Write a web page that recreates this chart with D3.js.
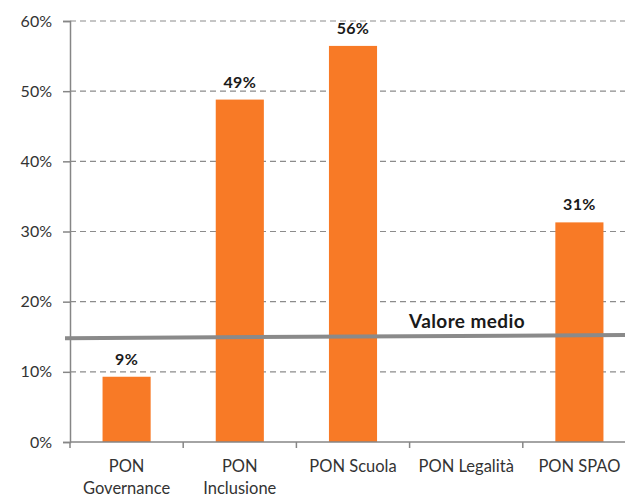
<html>
<head>
<script src="https://cdnjs.cloudflare.com/ajax/libs/d3/7.8.5/d3.min.js"></script>
<style>
  body { margin: 0; background: #fff; }
  text { font-family: Lato, "Open Sans", sans-serif; }
</style>
</head>
<body>
<script>
var width = 625, height = 498;

// data
var categories = ["PON Governance", "PON Inclusione", "PON Scuola", "PON Legalità", "PON SPAO"];
var labelLines = [["PON", "Governance"], ["PON", "Inclusione"], ["PON Scuola"], ["PON Legalità"], ["PON SPAO"]];
var values = [9.3, 48.8, 56.45, null, 31.3];
var valueLabels = ["9%", "49%", "56%", null, "31%"];
var yTicks = [0, 10, 20, 30, 40, 50, 60];
var avgValues = [14.8, 15.25];   // average line, left end and right end
var avgLabel = "Valore medio";

// plot area (window.top is reserved, so use prefixed names)
var plotLeft = 70, plotTop = 21, plotBottom = 442, plotRight = 636;

var svg = d3.select("body").append("svg")
  .attr("width", width)
  .attr("height", height);

var x = d3.scaleBand().domain(categories).range([plotLeft, plotRight]).paddingInner(0.575).paddingOuter(0.2875);
var y = d3.scaleLinear().domain([0, 60]).range([plotBottom, plotTop]);

var barData = categories.map(function(c, i) { return { c: c, v: values[i], l: valueLabels[i] }; })
  .filter(function(d) { return d.v != null; });

// gridlines
svg.selectAll("line.grid")
  .data(yTicks.filter(function(d) { return d > 0; }))
  .enter().append("line")
  .attr("x1", plotLeft).attr("x2", width)
  .attr("y1", function(d) { return y(d); })
  .attr("y2", function(d) { return y(d); })
  .attr("stroke", "#8c8c8c")
  .attr("stroke-width", 1.2)
  .attr("stroke-dasharray", "6,4");

// bars
svg.selectAll("rect.bar")
  .data(barData)
  .enter().append("rect")
  .attr("x", function(d) { return x(d.c); })
  .attr("width", x.bandwidth())
  .attr("y", function(d) { return y(d.v); })
  .attr("height", function(d) { return y(0) - y(d.v); })
  .attr("fill", "#f87a26");

// value labels
svg.selectAll("text.val")
  .data(barData)
  .enter().append("text")
  .attr("x", function(d) { return x(d.c) + x.bandwidth() / 2; })
  .attr("y", function(d) { return y(d.v) - 12; })
  .attr("text-anchor", "middle")
  .attr("font-size", 16)
  .attr("font-weight", "bold")
  .attr("letter-spacing", 0.3)
  .attr("fill", "#1a1a1a")
  .text(function(d) { return d.l; });

// y axis
var yAxis = svg.append("g")
  .attr("transform", "translate(" + plotLeft + ",0)")
  .call(d3.axisLeft(y).tickValues(yTicks).tickSize(7).tickPadding(11).tickFormat(function(d) { return d + "%"; }));
yAxis.select(".domain").attr("stroke", "#868686").attr("stroke-width", 1.5);
yAxis.selectAll(".tick line").attr("stroke", "#868686").attr("stroke-width", 1.5);
yAxis.selectAll(".tick text").attr("font-size", 16).attr("fill", "#333").attr("font-family", "Lato, 'Open Sans', sans-serif");

// x axis
var xAxisG = svg.append("g").attr("transform", "translate(0," + plotBottom + ")");
xAxisG.append("line").attr("x1", plotLeft).attr("x2", width).attr("y1", 0).attr("y2", 0)
  .attr("stroke", "#868686").attr("stroke-width", 1.5);
var step = x.step();
xAxisG.selectAll("line.xt")
  .data(categories)
  .enter().append("line")
  .attr("x1", function(d, i) { return plotLeft + step * i; })
  .attr("x2", function(d, i) { return plotLeft + step * i; })
  .attr("y1", 0).attr("y2", 6)
  .attr("stroke", "#868686").attr("stroke-width", 1.5);

var xl = xAxisG.selectAll("text.xl")
  .data(categories)
  .enter().append("text")
  .attr("text-anchor", "middle")
  .attr("font-size", 16.5)
  .attr("fill", "#333")
  .attr("transform", function(d) { return "translate(" + (x(d) + x.bandwidth() / 2) + ",30)"; });
xl.each(function(d, i) {
  var t = d3.select(this);
  labelLines[i].forEach(function(line, j) {
    t.append("tspan").attr("x", 0).attr("dy", j === 0 ? 0 : 22).text(line);
  });
});

// average line
svg.append("line")
  .attr("x1", plotLeft - 5).attr("x2", width)
  .attr("y1", y(avgValues[0])).attr("y2", y(avgValues[1]))
  .attr("stroke", "#8a8a8a")
  .attr("stroke-width", 4);

svg.append("text")
  .attr("x", 467)
  .attr("y", y(avgValues[1]) - 7)
  .attr("text-anchor", "middle")
  .attr("font-size", 19)
  .attr("font-weight", "bold")
  .attr("letter-spacing", 0.4)
  .attr("fill", "#1a1a1a")
  .text(avgLabel);
</script>
</body>
</html>
